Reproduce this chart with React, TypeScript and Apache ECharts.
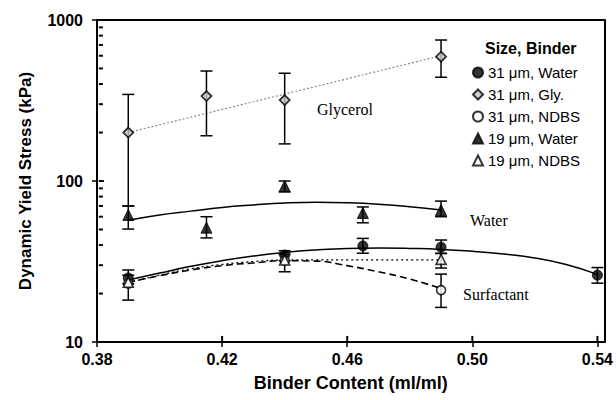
import React, { useEffect, useRef } from "react";
import * as echarts from "echarts";

// ---- data ----
const xTickValues = [0.38, 0.42, 0.46, 0.5, 0.54];
const yMajorTicks = [10, 100, 1000];
const yMinorTicks = [20, 30, 40, 50, 60, 70, 80, 90, 200, 300, 400, 500, 600, 700, 800, 900];

// measured points: [x, y]
const water31 = [[0.39, 25], [0.44, 34.7], [0.465, 39.5], [0.49, 38.8], [0.54, 26]];
const water31Err = [[0.39, 23, 28], [0.44, 32, 36.9], [0.465, 35.6, 44], [0.49, 35.5, 43], [0.54, 23.2, 29]];

const gly31 = [[0.39, 200], [0.415, 337], [0.44, 318], [0.49, 592]];
const gly31Err = [[0.39, 70, 345], [0.415, 191, 482], [0.44, 170, 467], [0.49, 441, 751]];

const ndbs31 = [[0.39, 23], [0.44, 32], [0.49, 21]];
const ndbs31Err = [[0.39, 18.2, 26], [0.49, 16.4, 26.4]];

const water19 = [[0.39, 61.5], [0.415, 51.3], [0.44, 93], [0.465, 63.3], [0.49, 66]];
const water19Err = [[0.39, 50.3, 70], [0.415, 44.3, 60], [0.44, 85.5, 100], [0.465, 55, 69], [0.49, 60, 75]];

const ndbs19 = [[0.39, 23.5], [0.44, 32.3], [0.49, 32.6]];
const ndbs19Err = [[0.44, 27.3, 35], [0.49, 28.8, 35.5]];

// fitted curves
const glyFit = [[0.39, 200], [0.49, 600]];
const water19Fit = [[0.39, 57], [0.40, 61.5], [0.41, 65], [0.42, 68.5], [0.43, 71], [0.44, 73], [0.45, 73.8], [0.46, 73.3], [0.47, 71.8], [0.48, 69.3], [0.49, 66]];
const water31Fit = [[0.39, 24.3], [0.40, 26.8], [0.41, 29.5], [0.42, 32], [0.43, 34.2], [0.44, 36], [0.45, 37.3], [0.46, 38.1], [0.47, 38.3], [0.48, 38.1], [0.49, 37.6], [0.50, 36.6], [0.51, 35.2], [0.52, 33.3], [0.53, 30.3], [0.54, 26.3]];
const ndbs31Fit = [[0.39, 23.5], [0.40, 25.8], [0.41, 28], [0.42, 29.8], [0.43, 31], [0.44, 32], [0.45, 31.8], [0.46, 29.8], [0.47, 27.3], [0.48, 24.6], [0.49, 21.5]];
const ndbs19Fit = [[0.39, 23.3], [0.40, 26], [0.41, 28.5], [0.42, 30.3], [0.43, 31.6], [0.44, 32.3], [0.45, 32.4], [0.46, 32.4], [0.47, 32.4], [0.48, 32.4], [0.49, 32.4]];

const seriesNames = ["31 μm, Water", "31 μm, Gly.", "31 μm, NDBS", "19 μm, Water", "19 μm, NDBS"];

const SANS = "'Liberation Sans', Arial, sans-serif";
const SERIF = "'Liberation Serif', 'Times New Roman', serif";

function errorSeries(data: number[][]) {
  return {
    type: "custom",
    data,
    encode: { x: 0, y: [1, 2] },
    silent: true,
    z: 3,
    renderItem: (_p: any, api: any) => {
      const x = api.value(0);
      const lo = api.coord([x, api.value(1)]);
      const hi = api.coord([x, api.value(2)]);
      const w = 6;
      const st = { stroke: "#000", lineWidth: 1.5 };
      return {
        type: "group",
        children: [
          { type: "line", shape: { x1: lo[0], y1: lo[1], x2: hi[0], y2: hi[1] }, style: st },
          { type: "line", shape: { x1: lo[0] - w, y1: lo[1], x2: lo[0] + w, y2: lo[1] }, style: st },
          { type: "line", shape: { x1: hi[0] - w, y1: hi[1], x2: hi[0] + w, y2: hi[1] }, style: st },
        ],
      };
    },
  };
}

// inner halves of ticks: data [x, y, length]
function tickSeries(data: number[][], vertical: boolean) {
  return {
    type: "custom",
    data,
    encode: { x: 0, y: 1 },
    silent: true,
    z: 3,
    renderItem: (_p: any, api: any) => {
      const p = api.coord([api.value(0), api.value(1)]);
      const len = api.value(2);
      const st = { stroke: "#000", lineWidth: 2 };
      const shape = vertical
        ? { x1: p[0], y1: p[1], x2: p[0], y2: p[1] - len }
        : { x1: p[0], y1: p[1], x2: p[0] + len, y2: p[1] };
      return { type: "group", children: [{ type: "line", shape, style: st }] };
    },
  };
}

function fitSeries(data: number[][], lineStyle: any) {
  return {
    type: "line",
    data,
    smooth: true,
    showSymbol: false,
    silent: true,
    z: 2,
    lineStyle,
  };
}

export default function App() {
  const ref = useRef<HTMLDivElement>(null);

  useEffect(() => {
    if (!ref.current) return;
    const chart = echarts.init(ref.current, undefined, { renderer: "svg" });

    // anchored just inside the axis line so the items are kept by the series
    const yTickData = [
      ...yMajorTicks.map((v) => [0.3806, v, 5]),
      ...yMinorTicks.map((v) => [0.3806, v, 4]),
    ];
    const xTickData = xTickValues.map((v) => [v, 10.15, 5]);

    const frameAxis = { show: true, lineStyle: { color: "#000", width: 2 } };

    const option: any = {
      animation: false,
      backgroundColor: "#fff",
      grid: { left: 97, right: 10, top: 20, bottom: 58 },
      xAxis: [
        {
          type: "value",
          min: 0.38,
          max: 0.5422,
          interval: 0.04,
          name: "Binder Content (ml/ml)",
          nameLocation: "middle",
          nameGap: 32,
          nameTextStyle: { fontFamily: SANS, fontWeight: "bold", fontSize: 18, color: "#000" },
          axisLine: frameAxis,
          axisTick: { show: true, length: 5, customValues: xTickValues, lineStyle: { color: "#000", width: 1.5 } },
          axisLabel: {
            customValues: xTickValues,
            margin: 9,
            fontFamily: SANS,
            fontWeight: "bold",
            fontSize: 16,
            color: "#000",
            formatter: (v: number) => v.toFixed(2),
          },
          splitLine: { show: false },
        },
        {
          type: "value",
          position: "top",
          min: 0.38,
          max: 0.5422,
          axisLine: frameAxis,
          axisTick: { show: false },
          axisLabel: { show: false },
          splitLine: { show: false },
        },
      ],
      yAxis: [
        {
          type: "log",
          logBase: 10,
          min: 10,
          max: 1000,
          name: "Dynamic Yield Stress (kPa)",
          nameLocation: "middle",
          nameGap: 63,
          nameTextStyle: { fontFamily: SANS, fontWeight: "bold", fontSize: 17, color: "#000" },
          axisLine: frameAxis,
          axisTick: { show: true, length: 5, lineStyle: { color: "#000", width: 1.5 } },
          axisLabel: {
            margin: 14,
            fontFamily: SANS,
            fontWeight: "bold",
            fontSize: 16,
            color: "#000",
            formatter: (v: number) => String(Math.round(v)),
          },
          splitLine: { show: false },
          minorTick: { show: false },
        },
        {
          type: "log",
          position: "right",
          min: 10,
          max: 1000,
          axisLine: frameAxis,
          axisTick: { show: false },
          axisLabel: { show: false },
          splitLine: { show: false },
        },
      ],
      legend: {
        data: seriesNames,
        orient: "vertical",
        left: 467,
        top: 60,
        itemWidth: 10,
        itemHeight: 10,
        itemGap: 7,
        textStyle: { fontFamily: SANS, fontSize: 15, color: "#000", lineHeight: 14 },
        selectedMode: false,
      },
      graphic: [
        { type: "text", left: 485, top: 40, style: { text: "Size, Binder", font: `bold 16px ${SANS}`, fill: "#000" } },
        { type: "text", left: 317, top: 101, style: { text: "Glycerol", font: `16px ${SERIF}`, fill: "#000" } },
        { type: "text", left: 470, top: 212, style: { text: "Water", font: `16px ${SERIF}`, fill: "#000" } },
        { type: "text", left: 463, top: 286, style: { text: "Surfactant", font: `16px ${SERIF}`, fill: "#000" } },
      ],
      series: [
        fitSeries(glyFit, { color: "#8a8a8a", width: 1.2, type: [2, 2] }),
        fitSeries(water19Fit, { color: "#000", width: 1.5 }),
        fitSeries(water31Fit, { color: "#000", width: 1.5 }),
        fitSeries(ndbs31Fit, { color: "#000", width: 1.6, type: [7, 4] }),
        fitSeries(ndbs19Fit, { color: "#000", width: 1.3, type: [2, 3] }),
        errorSeries(gly31Err),
        errorSeries(water19Err),
        errorSeries(water31Err),
        errorSeries(ndbs31Err),
        errorSeries(ndbs19Err),
        tickSeries(yTickData, false),
        tickSeries(xTickData, true),
        {
          name: seriesNames[0], type: "scatter", data: water31, symbol: "circle", symbolSize: 10, z: 4,
          itemStyle: { color: "#000", borderColor: "#000", borderWidth: 1 },
        },
        {
          name: seriesNames[1], type: "scatter", data: gly31, symbol: "diamond", symbolSize: 10, z: 4,
          itemStyle: { color: "#c8c8c8", borderColor: "#000", borderWidth: 1.8 },
        },
        {
          name: seriesNames[2], type: "scatter", data: ndbs31, symbol: "circle", symbolSize: 9, z: 4,
          itemStyle: { color: "#fff", borderColor: "#000", borderWidth: 1.6 },
        },
        {
          name: seriesNames[3], type: "scatter", data: water19, symbol: "triangle", symbolSize: 11, z: 4,
          itemStyle: { color: "#000", borderColor: "#000", borderWidth: 1 },
        },
        {
          name: seriesNames[4], type: "scatter", data: ndbs19, symbol: "triangle", symbolSize: 10, z: 4,
          itemStyle: { color: "#fff", borderColor: "#000", borderWidth: 1.6 },
        },
      ],
    };

    chart.setOption(option);
    return () => chart.dispose();
  }, []);

  return <div ref={ref} style={{ width: 616, height: 400, position: "absolute", left: 0, top: 0 }} />;
}
